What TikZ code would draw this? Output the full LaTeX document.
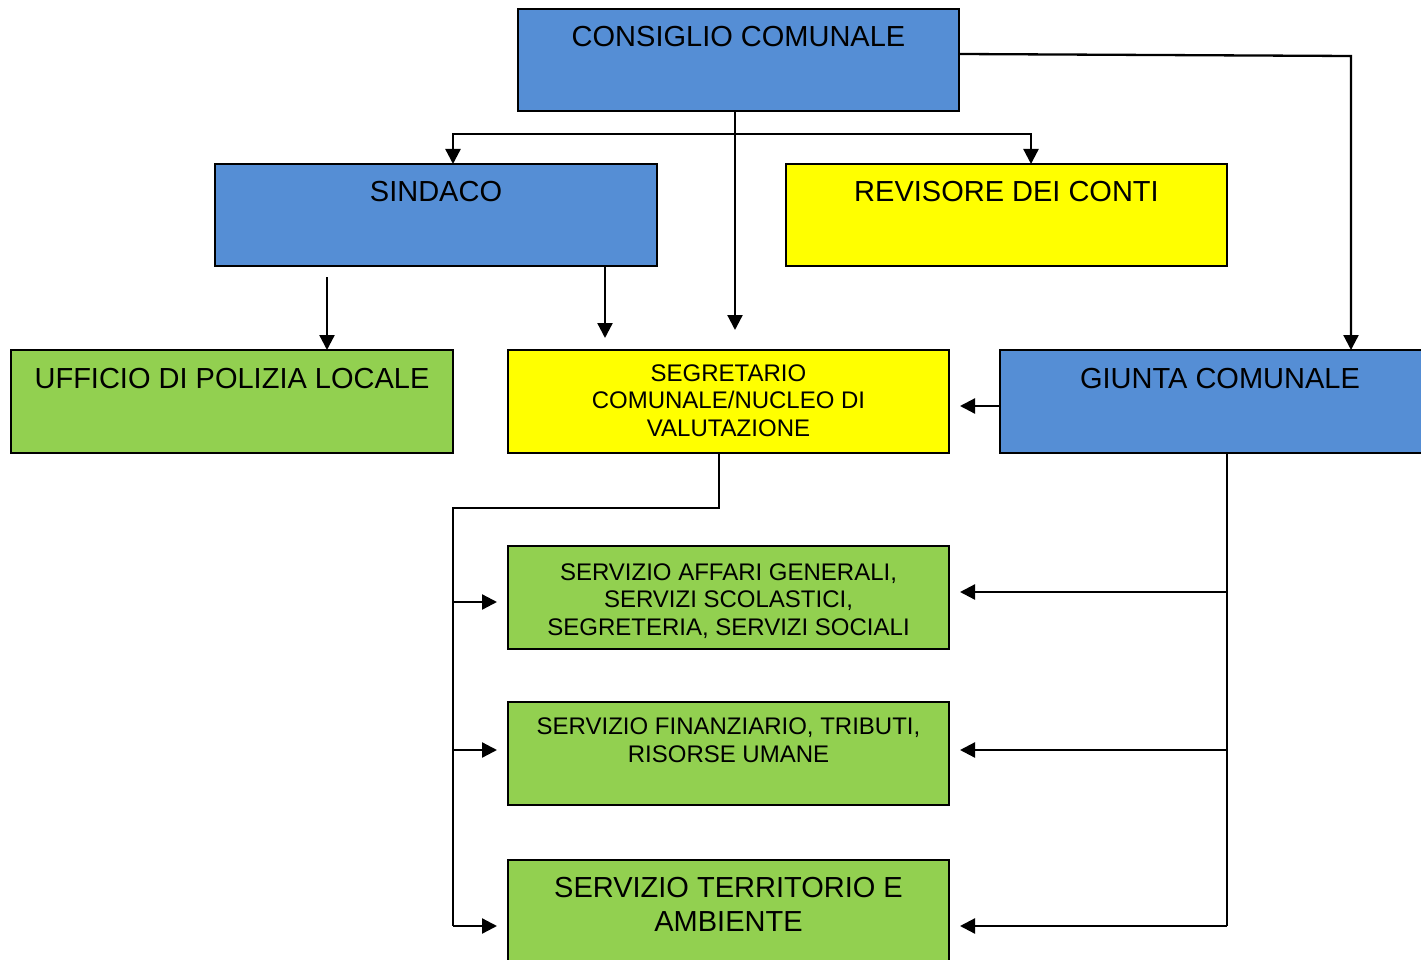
\documentclass[tikz,border=0pt]{standalone}
\usepackage{fontspec}
\setmainfont{Liberation Sans}
\usetikzlibrary{arrows.meta,calc}
\definecolor{bblue}{RGB}{85,142,213}
\definecolor{ggreen}{RGB}{146,208,80}
\definecolor{yyellow}{RGB}{255,255,0}
\begin{document}
\begin{tikzpicture}[x=1pt,y=-1pt,
 box/.style={draw=black, line width=2.2pt, anchor=north west, inner sep=0pt, outer sep=0pt},
 bigtxt/.style={anchor=base, align=center, font=\fontsize{29}{33.4}\selectfont, inner sep=0pt},
 smalltxt/.style={anchor=base, align=center, font=\fontsize{24}{27.5}\selectfont, inner sep=0pt},
 conn/.style={line width=2.3pt},
 arr/.style={conn, -{Triangle[length=15pt,width=15pt]}}]
\useasboundingbox (0,0) rectangle (1421,960);
\begin{scope}
\clip (0,0) rectangle (1421,960);
% boxes
\node[box, fill=bblue, minimum width=441pt, minimum height=102pt] (cc) at (518,9) {};
\node[box, fill=bblue, minimum width=442pt, minimum height=102pt] (sin) at (215,164) {};
\node[box, fill=yyellow, minimum width=441pt, minimum height=102pt] (rev) at (786,164) {};
\node[box, fill=ggreen, minimum width=442pt, minimum height=103pt] (uff) at (11,350) {};
\node[box, fill=yyellow, minimum width=441pt, minimum height=103pt] (seg) at (508,350) {};
\node[box, fill=bblue, minimum width=440pt, minimum height=103pt] (giu) at (1000,350) {};
\node[box, fill=ggreen, minimum width=441pt, minimum height=103pt] (aff) at (508,546) {};
\node[box, fill=ggreen, minimum width=441pt, minimum height=103pt] (fin) at (508,702) {};
\node[box, fill=ggreen, minimum width=441pt, minimum height=115pt] (ter) at (508,860) {};
% texts (base = baseline of last line)
\node[bigtxt] (cct) at ($(cc.north)+(0,38)$) {CONSIGLIO COMUNALE};
\node[bigtxt] (sint) at ($(sin.north)+(0,38)$) {SINDACO};
\node[bigtxt] (revt) at ($(rev.north)+(0,38)$) {REVISORE DEI CONTI};
\node[bigtxt] (ufft) at ($(uff.north)+(0,38)$) {UFFICIO DI POLIZIA LOCALE};
\node[bigtxt] (giut) at ($(giu.north)+(0,38)$) {GIUNTA COMUNALE};
\node[smalltxt] (segt) at ($(seg.north)+(0,86)$) {SEGRETARIO\\COMUNALE/NUCLEO DI\\VALUTAZIONE};
\node[smalltxt] (afft) at ($(aff.north)+(0,89)$) {SERVIZIO AFFARI GENERALI,\\SERVIZI SCOLASTICI,\\SEGRETERIA, SERVIZI SOCIALI};
\node[smalltxt] (fint) at ($(fin.north)+(0,60)$) {SERVIZIO FINANZIARIO, TRIBUTI,\\RISORSE UMANE};
\node[bigtxt] (tert) at ($(ter.north)+(0,71)$) {SERVIZIO TERRITORIO E\\AMBIENTE};
% connectors
\coordinate (cr) at (1351,56);
\draw[arr] ([yshift=6pt]cc.east) -- (cr) -- (cr |- giu.north);
\coordinate (j1) at ([xshift=-3.5pt]cc.south |- 0,134);
\draw[arr, shorten >=20pt] ([xshift=-3.5pt]cc.south) -- ([xshift=-3.5pt]cc.south |- seg.north);
\draw[arr] (j1) -| ([xshift=17pt]sin.north);
\draw[arr] (j1) -| ([xshift=24.5pt]rev.north);
\draw[arr] ([xshift=-109pt,yshift=-11pt]sin.south) -- ([xshift=-109pt]sin.south |- uff.north);
\draw[arr, shorten >=12pt] ([xshift=169pt]sin.south) -- ([xshift=169pt]sin.south |- seg.north);
\draw[arr, shorten >=11pt] ([yshift=-4.5pt]giu.west) -- ([yshift=-4.5pt]giu.west -| seg.east);
% left trunk
\coordinate (lt) at (453,508);
\coordinate (l1) at (453,602);
\coordinate (l2) at (453,750);
\coordinate (l3) at (453,926);
\draw[conn] ([xshift=-9.5pt]seg.south) |- (lt) -- (l3);
\draw[arr, shorten >=11pt] (l1) -- (l1 -| aff.west);
\draw[arr, shorten >=11pt] (l2) -- (l2 -| fin.west);
\draw[arr, shorten >=11pt] (l3) -- (l3 -| ter.west);
% right trunk
\coordinate (r1) at ([xshift=7pt]giu.south |- 0,592);
\coordinate (r2) at ([xshift=7pt]giu.south |- 0,750);
\coordinate (r3) at ([xshift=7pt]giu.south |- 0,926);
\draw[conn] ([xshift=7pt]giu.south) -- (r3);
\draw[arr, shorten >=11pt] (r1) -- (r1 -| aff.east);
\draw[arr, shorten >=11pt] (r2) -- (r2 -| fin.east);
\draw[arr, shorten >=11pt] (r3) -- (r3 -| ter.east);
\end{scope}
\end{tikzpicture}
\end{document}
